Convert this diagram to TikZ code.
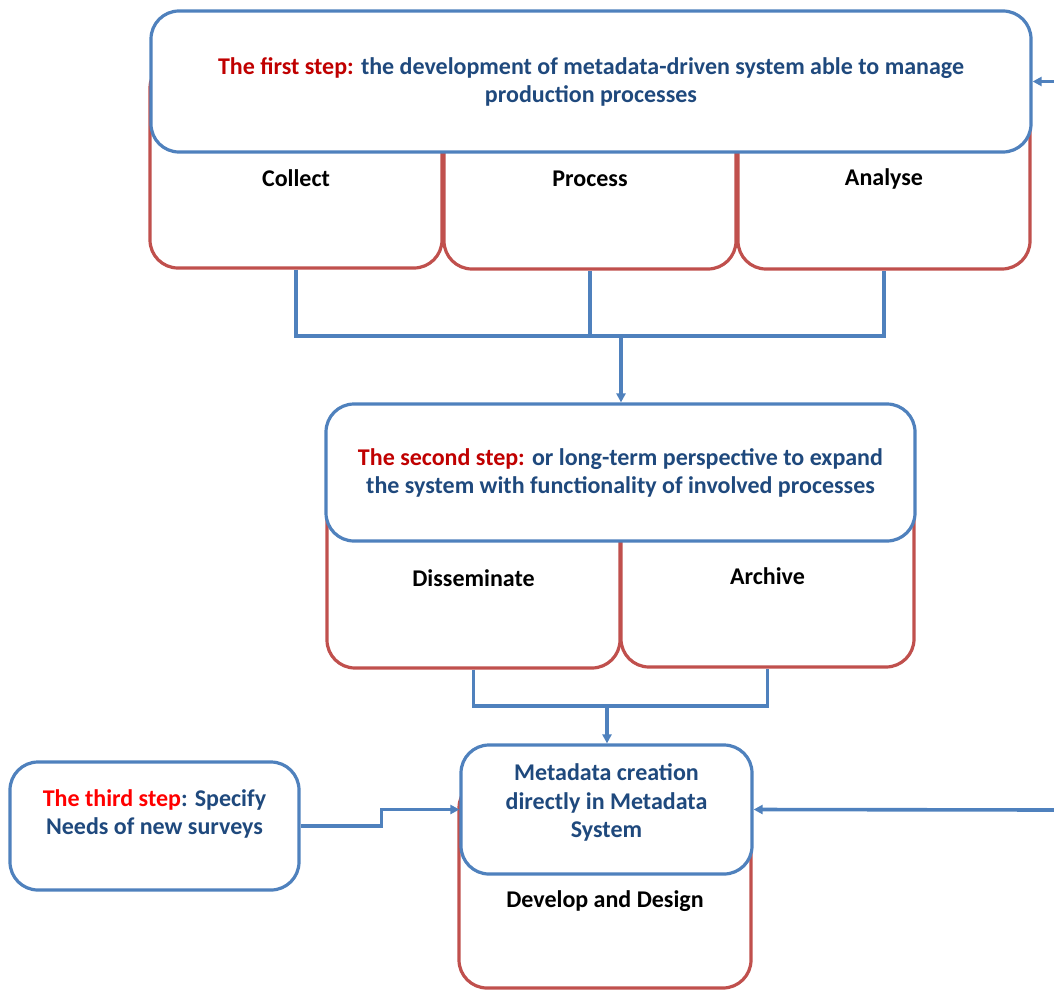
\documentclass[tikz,border=0pt]{standalone}
\usepackage{fontspec}
\setmainfont{Carlito}
\usetikzlibrary{arrows.meta}
\definecolor{lblue}{HTML}{4F81BD}
\definecolor{lred}{HTML}{C0504D}
\definecolor{tblue}{HTML}{1F497D}
\definecolor{tdred}{HTML}{C00000}
\definecolor{tred}{HTML}{FF0000}
\tikzset{
  bluebox/.style={draw=lblue, line width=3.2pt, fill=white, rounded corners=28pt, rectangle, inner sep=0pt},
  redbox/.style={draw=lred, line width=3.2pt, fill=white, rounded corners=28pt, rectangle, inner sep=0pt},
  maintxt/.style={font=\bfseries\fontsize{24}{28.5}\selectfont, text=tblue, align=center, inner sep=0pt},
  lbltxt/.style={font=\bfseries\fontsize{24}{28}\selectfont, text=black, inner sep=0pt},
  conn/.style={draw=lblue, line width=3.6pt},
  arr/.style={conn, -{Triangle[length=9pt,width=9pt]}},
}
\begin{document}
\begin{tikzpicture}[x=1pt,y=-1pt]
\useasboundingbox (0,0) rectangle (1054,990);
% red boxes (behind)
\node[redbox, minimum width=292pt, minimum height=208pt] (collect) at (296,164) {};
\node[redbox, minimum width=292pt, minimum height=209pt] (process) at (590,164.5) {};
\node[redbox, minimum width=292pt, minimum height=209pt] (analyse) at (884,164.5) {};
\node[lbltxt] (collectl) at (296,178) {Collect};
\node[lbltxt] (processl) at (590,179) {Process};
\node[lbltxt] (analysel) at (884,179) {Analyse};
% first blue box
\node[bluebox, minimum width=880pt, minimum height=141pt] (b1) at (591,81.5) {};
\node[maintxt] (b1t) at (591,82) {\textcolor{tdred}{The first step:} the development of metadata-driven system able to manage\\production processes};
% second step
\node[redbox, minimum width=293pt, minimum height=228pt] (dissem) at (473.5,554) {};
\node[redbox, minimum width=293pt, minimum height=227pt] (archive) at (767.5,553.5) {};
\node[lbltxt] (disseml) at (473.5,578) {Disseminate};
\node[lbltxt] (archivel) at (767.5,576) {Archive};
\node[bluebox, minimum width=589pt, minimum height=137pt] (b2) at (620.5,472.5) {};
\node[maintxt] (b2t) at (620.5,473) {\textcolor{tdred}{The second step:} or long-term perspective to expand\\the system with functionality of involved processes};
% third
\node[redbox, minimum width=292pt, minimum height=208pt] (develop) at (605,884) {};
\node[lbltxt] (developl) at (605,901) {Develop and Design};
\node[bluebox, minimum width=291pt, minimum height=129pt] (b3) at (606.5,809.5) {};
\node[maintxt] (b3t) at (606.5,802.5) {Metadata creation\\directly in Metadata\\System};
\node[bluebox, minimum width=289pt, minimum height=128pt] (b4) at (154.5,826) {};
\node[maintxt] (b4t) at (154.5,814) {\textcolor{tred}{The third step}: Specify\\Needs of new surveys};
% connectors
\coordinate (j1) at (621,336);
\coordinate (j2) at (607,706);
\coordinate (rin) at (1054,810);
\coordinate (tin) at (1054,81.5);
\draw[conn] (collect.south) -- (collect.south |- j1) -- (analyse.south |- j1) -- (analyse.south);
\draw[conn] (process.south) -- (process.south |- j1);
\draw[arr] (j1) -- (j1 |- b2.north);
\draw[conn] (dissem.south) -- (dissem.south |- j2) -- (archive.south |- j2) -- (archive.south);
\draw[arr] (j2) -- (j2 |- b3.north);
\draw[arr] (b4.east) -- ++(81,0) |- (b3.west);
\draw[arr] (rin) -- (b3.east);
\draw[arr] (tin) -- (b1.east);
\end{tikzpicture}
\end{document}
